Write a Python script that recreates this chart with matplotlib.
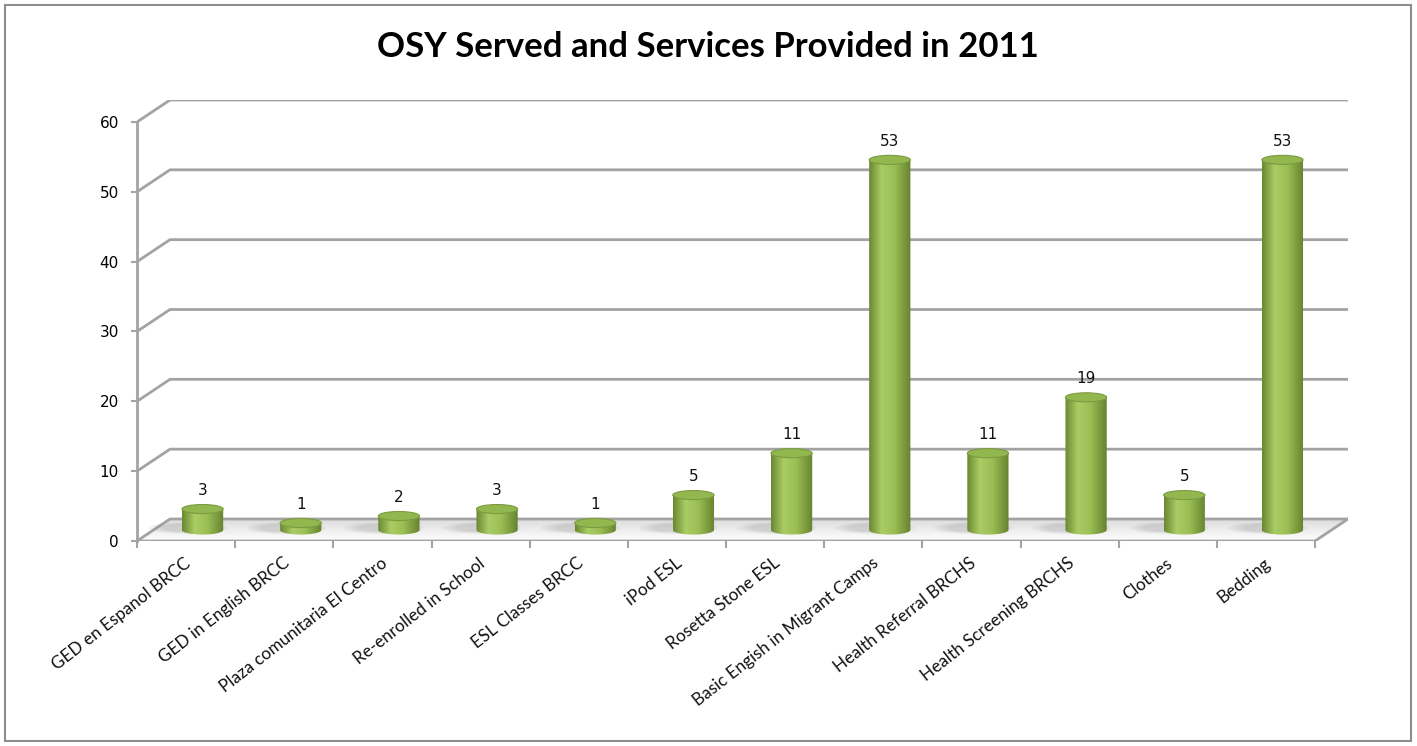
import numpy as np
import matplotlib
matplotlib.use("Agg")
import matplotlib.pyplot as plt
from matplotlib.patches import Polygon, Ellipse, Rectangle
from matplotlib.colors import LinearSegmentedColormap

# data
categories = ["GED en Espanol BRCC", "GED in English BRCC", "Plaza comunitaria El Centro",
              "Re-enrolled in School", "ESL Classes BRCC", "iPod ESL", "Rosetta Stone ESL",
              "Basic Engish in Migrant Camps", "Health Referral BRCHS",
              "Health Screening BRCHS", "Clothes", "Bedding"]
values = [3, 1, 2, 3, 1, 5, 11, 53, 11, 19, 5, 53]
y_ticks = [0, 10, 20, 30, 40, 50, 60]
title = "OSY Served and Services Provided in 2011"

# 3d look: depth offset of the back wall (category units, value units)
DX, DY = 0.336, 3.15
n = len(categories)
x0, x1 = -0.5, n - 0.5

fig = plt.figure(figsize=(14.17, 7.46), dpi=100)
ax = fig.add_axes([137 / 1417, 205 / 746, 1211 / 1417, 441 / 746])
ax.set_xlim(x0, x1 + DX)
ax.set_ylim(0, 60 + DY)

# floor with a soft gradient
floor = Polygon([[x0, 0], [x1, 0], [x1 + DX, DY], [x0 + DX, DY]], closed=True,
                facecolor="none", edgecolor="none", transform=ax.transData)
ax.add_patch(floor)
fgrad = np.linspace(1, 0, 64).reshape(-1, 1)
floor_cmap = LinearSegmentedColormap.from_list("floor", ["#ffffff", "#dcdcdc"])
im = ax.imshow(fgrad, cmap=floor_cmap, extent=[x0, x1 + DX, 0, DY], origin="upper",
               aspect="auto", zorder=1, interpolation="bilinear")
im.set_clip_path(floor)

# gridlines with the slanted left part
for v in y_ticks:
    ax.plot([x0, x0 + DX, x1 + DX], [v, v + DY, v + DY], color="#a3a3a3", lw=2,
            zorder=2, solid_capstyle="butt")
ax.plot([x0, x1, x1 + DX], [0, 0, DY], color="#a3a3a3", lw=2, zorder=2)

# cylinders
bar_cmap = LinearSegmentedColormap.from_list(
    "bar", [(0.0, "#6b8731"), (0.3, "#a9cc64"), (0.6, "#9bbf55"), (1.0, "#67822f")])
w, eh = 0.42, 1.3
grad = np.linspace(0, 1, 128).reshape(1, -1)
for i, v in enumerate(values):
    cx = i + DX / 2
    base = DY / 2
    top = base + v
    # shadow on the floor
    for k, a in enumerate([0.10, 0.10, 0.10]):
        ax.add_patch(Ellipse((cx - 0.15, base + 0.3), w * (1.9 - 0.3 * k), eh * (1.3 - 0.2 * k),
                             facecolor="#8a8a8a", alpha=a, edgecolor="none", zorder=2.5))
    t = np.linspace(np.pi, 2 * np.pi, 40)
    pts = np.column_stack([cx + w / 2 * np.cos(t), base + eh / 2 * np.sin(t)])
    pts = np.vstack([[cx - w / 2, top], pts, [cx + w / 2, top]])
    body = Polygon(pts, closed=True, facecolor="none", edgecolor="none",
                   transform=ax.transData)
    ax.add_patch(body)
    bim = ax.imshow(grad, cmap=bar_cmap, extent=[cx - w / 2, cx + w / 2, base - eh, top],
                    aspect="auto", zorder=3, interpolation="bilinear")
    bim.set_clip_path(body)
    ax.add_patch(Ellipse((cx, top), w, eh, facecolor="#93b74f", edgecolor="#7c9a40",
                         lw=0.8, zorder=4))
    ax.text(cx, top + eh / 2 + 0.9, str(v), ha="center", va="bottom", fontsize=11,
            family="DejaVu Sans", color="#111111", zorder=5)

ax.set_xlim(x0, x1 + DX)
ax.set_ylim(0, 60 + DY)

# axes
for s in ["top", "right", "bottom"]:
    ax.spines[s].set_visible(False)
ax.spines["left"].set_bounds(0, 60)
ax.spines["left"].set_color("#a3a3a3")
ax.spines["left"].set_linewidth(2)
ax.set_yticks(y_ticks)
ax.set_yticklabels([str(v) for v in y_ticks], fontsize=11, family="DejaVu Sans")
ax.tick_params(axis="y", length=4, width=1.5, color="#a3a3a3", pad=9)
ax.set_xticks(np.arange(x0, x1 + 0.01, 1.0))
ax.set_xticklabels([])
ax.tick_params(axis="x", length=5, width=1.5, color="#a3a3a3")
ax.patch.set_visible(False)

for i, c in enumerate(categories):
    ax.text(i + 0.03, -2.9, c, rotation=38, rotation_mode="anchor", ha="right", va="center",
            fontsize=12.3, family="Lato", color="#111111", clip_on=False)

fig.text(0.4997, 1 - 47 / 746, title, ha="center", va="center", fontsize=25,
         fontweight="bold", family="Lato")

fig.patches.append(Rectangle((5 / 1417, 5 / 746), 1406 / 1417, 736 / 746,
                             transform=fig.transFigure, fill=False, edgecolor="#8c8c8c",
                             lw=1.5))

fig.savefig("out.png", dpi=100)
